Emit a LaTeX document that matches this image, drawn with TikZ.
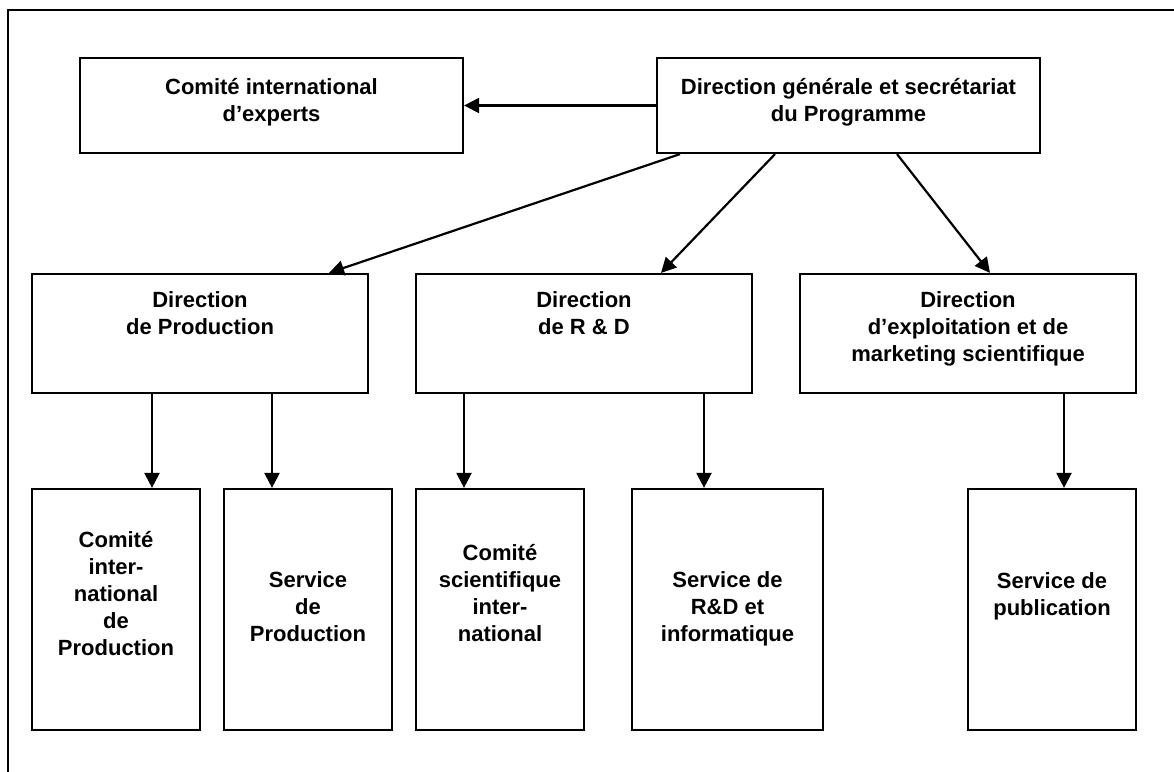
\documentclass[tikz,border=0pt]{standalone}
\usepackage{fontspec}
\setmainfont{Liberation Sans}
\usetikzlibrary{arrows.meta,positioning}

\begin{document}
\begin{tikzpicture}[x=1pt,y=-1pt,
  box/.style={draw,line width=2.2pt,inner sep=0pt},
  topbox/.style={box,minimum width=383pt,minimum height=95pt},
  dirbox/.style={box,minimum width=336pt,minimum height=119pt},
  svcbox/.style={box,minimum width=168pt,minimum height=241pt},
  lbl/.style={align=center,inner sep=0pt,font=\fontsize{22}{27}\selectfont\bfseries},
  arr/.style={-{Triangle[length=15pt,width=15pt]},line width=2.2pt}]
\useasboundingbox (0,0) rectangle (1174,771);
\draw[line width=2.2pt] (8,780) -- (8,10) -- (1180,10);

% top row
\node[topbox] (comite) at (271.5,105.5) {};
\node[lbl,below=21pt of comite.north] (t-comite) {Comité international\\d’experts};
\node[topbox] (dg) at (848.5,105.5) {};
\node[lbl,below=21pt of dg.north] (t-dg) {Direction générale et secrétariat\\du Programme};

% directions
\node[dirbox] (dprod) at (200,333.5) {};
\node[lbl,below=18pt of dprod.north] (t-dprod) {Direction\\de Production};
\node[dirbox] (drd) at (584,333.5) {};
\node[lbl,below=18pt of drd.north] (t-drd) {Direction\\de R \& D};
\node[dirbox] (dexpl) at (968,333.5) {};
\node[lbl,below=18pt of dexpl.north] (t-dexpl) {Direction\\d’exploitation et de\\marketing scientifique};

% services
\node[svcbox] (cprod) at (116,609.5) {};
\node[lbl,below=43pt of cprod.north] (t-cprod) {Comité\\inter-\\national\\de\\Production};
\node[svcbox] (sprod) at (308,609.5) {};
\node[lbl,below=83pt of sprod.north] (t-sprod) {Service\\de\\Production};
\node[svcbox] (csci) at (500,609.5) {};
\node[lbl,below=56pt of csci.north] (t-csci) {Comité\\scientifique\\inter-\\national};
\node[svcbox,minimum width=191pt] (srd) at (727.5,609.5) {};
\node[lbl,below=83pt of srd.north] (t-srd) {Service de\\R\&D et\\informatique};
\node[svcbox] (spub) at (1052,609.5) {};
\node[lbl,below=84pt of spub.north] (t-spub) {Service de\\publication};

\path[arr]
  (dg.west) edge (comite.east)
  ([xshift=-168.5pt]dg.south) edge ([xshift=129pt]dprod.north)
  ([xshift=-73.5pt]dg.south) edge ([xshift=77pt]drd.north)
  ([xshift=48.5pt]dg.south) edge ([xshift=22pt]dexpl.north)
  ([xshift=-48pt]dprod.south) edge ([xshift=36pt]cprod.north)
  ([xshift=72pt]dprod.south) edge ([xshift=-36pt]sprod.north)
  ([xshift=-120pt]drd.south) edge ([xshift=-36pt]csci.north)
  ([xshift=120pt]drd.south) edge ([xshift=-23.5pt]srd.north)
  ([xshift=96pt]dexpl.south) edge ([xshift=12pt]spub.north);
\end{tikzpicture}
\end{document}
